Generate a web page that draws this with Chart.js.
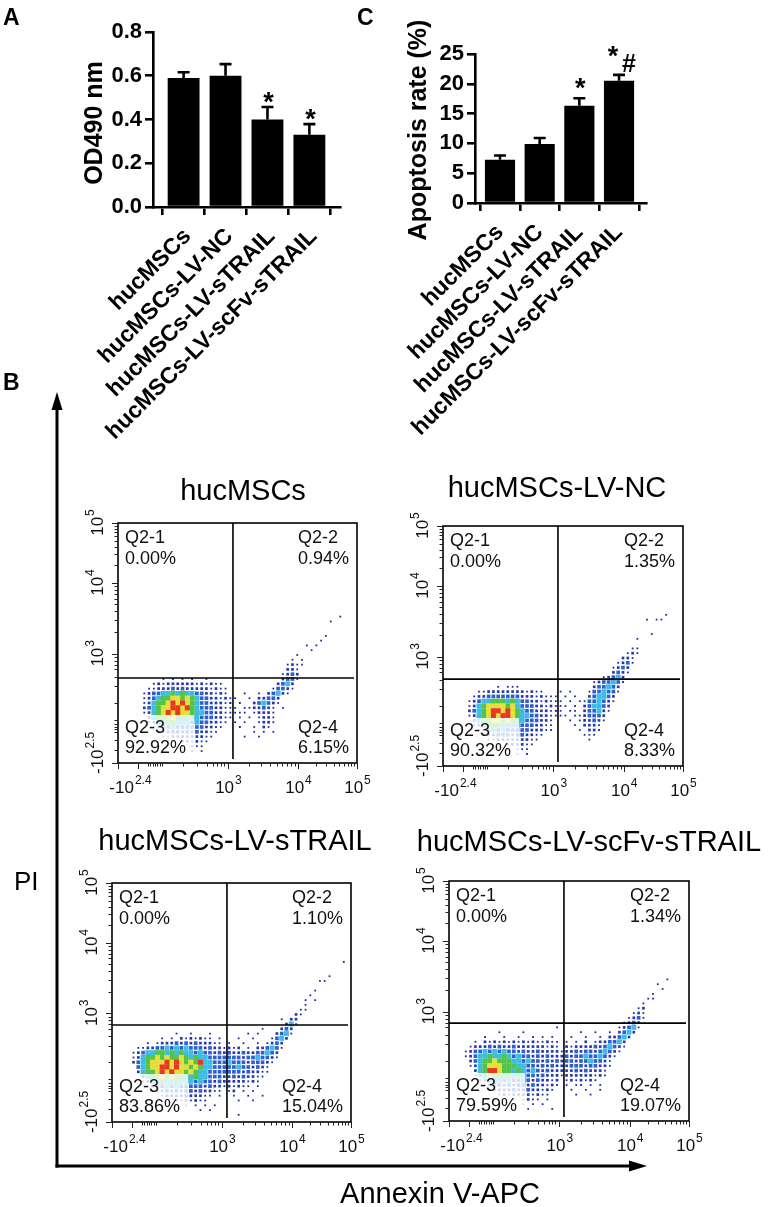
<!DOCTYPE html>
<html><head><meta charset="utf-8">
<script src="https://cdn.jsdelivr.net/npm/chart.js@4.4.1/dist/chart.umd.min.js"></script>
<style>
html,body{margin:0;padding:0;background:#fff;}
body{width:768px;height:1207px;position:relative;overflow:hidden;}
canvas{position:absolute;}
svg{position:absolute;left:0;top:0;pointer-events:none;}
</style></head><body>
<canvas id="cA" width="384" height="455" style="left:0;top:0"></canvas>
<canvas id="cC" width="384" height="455" style="left:384px;top:0"></canvas>
<canvas id="f1" width="344" height="350" style="left:40px;top:460px"></canvas>
<canvas id="f2" width="384" height="350" style="left:384px;top:460px"></canvas>
<canvas id="f3" width="344" height="350" style="left:40px;top:815px"></canvas>
<canvas id="f4" width="384" height="350" style="left:384px;top:815px"></canvas>
<svg width="768" height="1207" xmlns="http://www.w3.org/2000/svg" font-family="Liberation Sans, Arial, sans-serif">
  <text x="3" y="25" font-size="23" font-weight="bold">A</text>
  <text x="357" y="25" font-size="23" font-weight="bold">C</text>
  <text x="3" y="390" font-size="23" font-weight="bold">B</text>
  <line x1="57" y1="1167.5" x2="57" y2="406" stroke="#000" stroke-width="3"/>
  <polygon points="57,392 51.5,410 62.5,410" fill="#000"/>
  <line x1="55.5" y1="1166" x2="632" y2="1166" stroke="#000" stroke-width="3"/>
  <polygon points="647,1166 629,1160.5 629,1171.5" fill="#000"/>
  <text x="14" y="890" font-size="26">PI</text>
  <text x="440" y="1203" font-size="29" text-anchor="middle">Annexin V-APC</text>
</svg>
<script>
const FONT = '"Liberation Sans", Arial, Helvetica, sans-serif';

// ---------- Panel A / C data ----------
const catLabels = ['hucMSCs', 'hucMSCs-LV-NC', 'hucMSCs-LV-sTRAIL', 'hucMSCs-LV-scFv-sTRAIL'];
const odMean = [0.59, 0.60, 0.40, 0.33];
const odErr = [0.026, 0.053, 0.057, 0.049];
const odSig = ['', '', '*', '*'];
const odTicks = [0, 0.2, 0.4, 0.6, 0.8];
const apoMean = [7.25, 9.9, 16.3, 20.5];
const apoErr = [0.73, 1.0, 1.28, 1.0];
const apoSig = ['', '', '*', '*#'];
const apoTicks = [0, 5, 10, 15, 20, 25];

// ---------- Panel B data ----------
const flowTitles = ['hucMSCs', 'hucMSCs-LV-NC', 'hucMSCs-LV-sTRAIL', 'hucMSCs-LV-scFv-sTRAIL'];
const quadNames = ['Q2-1', 'Q2-2', 'Q2-3', 'Q2-4'];
const quadPct1 = ['0.00%', '0.94%', '92.92%', '6.15%'];
const quadPct2 = ['0.00%', '1.35%', '90.32%', '8.33%'];
const quadPct3 = ['0.00%', '1.10%', '83.86%', '15.04%'];
const quadPct4 = ['0.00%', '1.34%', '79.59%', '19.07%'];
const gateX = [481, 479, 481, 479];
const gateY = [354, 362, 406, 408];
const flowXLabels = [{v: 50, b: '-10', s: '2.4'}, {v: 460, b: '10', s: '3'}, {v: 753, b: '10', s: '4'}, {v: 1000, b: '10', s: '5'}];
const flowYLabels = [{v: 40, b: '-10', s: '2.5'}, {v: 455, b: '10', s: '3'}, {v: 750, b: '10', s: '4'}, {v: 1000, b: '10', s: '5'}];
const flowXMajor = [0, 83, 460, 753, 1000];
const flowXMinor = [125, 135, 145, 155, 165, 175, 185, 272, 330, 372, 397, 415, 430, 442];
const flowYMajor = [0, 455, 750, 1000];
const flowYMinor = [54, 96, 129, 141, 152, 162, 179, 250, 320, 360, 390, 410, 425, 440];

// density grid (cell = 20 channel units): [row, startCol, cells]
// . sparse  b dark blue  B blue  c cyan  g green  y yellow  r red
const cloud1 = [
 [17,9,". . . .  ."],[16,7,".b.bbbbbb.b.b.."],[15,6,"..bbbBbBbbbbb.b.."],[14,5,".bBBccgcgccBBbb.b."],
 [13,5,".bBcggyygygcBBbb.b."],[12,5,".bcggyryrygcBBbbb.."],[11,5,"bBcgyyrryrgcBBBbb.."],[10,5,".bcgyryryygccBBbb."],
 [9,6,"bcggyygggccBBBbb."],[8,6,".bccggcccBcBBbb.."],[7,7,".bBBcBBBBBBbb.."],[6,8,".bbBBbBbBbb.."],
 [5,9,"..bbbbbbb.."],[4,11,". .b.b.."],[3,13,". ..."],[2,15,". ."],
 [30,46,"."],[29,44,"."],[26,43,"."],[25,42,"."],[24,39,". ."],[23,40,"."],[22,37,"."],
 [21,36,". ."],[20,35,".b.."],[19,35,"bb."],[18,34,".bBb"],[17,34,"bBB."],[16,33,"bBcb"],[15,32,".BBb."],
 [14,26,".  . bBcb."],[13,24,".  . bbBBb"],[12,23,". .  bBcBb."],[11,24,". ..bbBb. ."],[10,23,".... .bbb."],
 [9,23,". . . .bb."],[8,24,". .  .bb."],[7,25,".  . b."],[6,28,". . ."],[5,26,".  ."]
];
const cloud2 = [
 [16,11,". ..."],[15,7,"..bbbbbbbb.b.."],[14,6,".bbBBBBBBBbbb.b.."],[13,5,".bBccgggcgcBBbb.b."],
 [12,5,".bcgyyyygycBBBbb.b."],[11,5,"bBcgyrryrygcBBbbb.."],[10,5,".bcgyryrrygccBBbb.."],[9,6,"bcggyygyggcBBBbb."],
 [8,6,".bcgggccccBBBbb.."],[7,7,".bBcBcBBBBBbbb.."],[6,8,".bbBBBbBBbb.."],[5,9,"..bbbbbbb.."],
 [4,11,". .bbb.."],[3,13,". ..."],[2,15,". ."],
 [31,46,"."],[30,42,". .."],[27,43,"."],[26,40,"."],[24,39,".."],[23,38,".b."],[22,37,"bb."],
 [21,36,".bB."],[20,35,".bBb"],[19,35,"bBb."],[18,33,".bBcb"],[17,31,".bBBcB."],[16,31,"bBBcBb"],
 [15,24,". .   .BBcBB."],[14,23,". . .  bBccBb"],[13,23,".. . ..BBcBb."],[12,24,".. . bBccBb"],
 [11,23,".. .. bBBcb."],[10,24,".. ..bBBBb"],[9,26,". .bbBb."],[8,27,". bbb."],[7,28,". bb."],[6,29,"..."],[5,30,"."]
];
const cloud3 = [
 [18,13,".  .   ."],[17,10,". . b.b.b.. ."],[16,7,". .bbbBbBbBbbb.."],[15,5,"..bbBBcBcBcBBBbBbb."],
 [14,4,".bBccggcgcgccBcBBbBb"],[13,4,".bcggygyggygcgccBBBB"],[12,4,"bBcgyyyryrygygrccBBB"],[11,5,"BcgyyrryryygygccBBB"],
 [10,5,"bcggyryryygygccBBBB"],[9,6,"bcggygygggcgccBBBb"],[8,6,".bccgccgcccBcBBbBb"],[7,8,"bBBcBcBBBBBbBbb."],
 [6,9,"bbBbBbBBbBbb.."],[5,10,".bbbbBbbb.. ."],[4,13,"..b.b.."],[3,15,". . . ."],[2,18,". ."],
 [33,48,"."],[30,45,"."],[29,43,".."],[27,42,"."],[26,41,"."],[25,40,". ."],[24,40,"."],[23,39,".."],
 [22,38,"b."],[21,35,". bb"],[20,36,"bc."],[19,31,".   bBb"],[18,28,". .   bBc."],[17,26,".  .   .Bcb"],
 [16,24,".  .  . .bBb"],[15,24,"b.b . bbBcB."],[14,24,"BbbBbbBBcBb"],[13,24,"BBBbBBcBBb."],[12,24,"cBBBbBBBb."],
 [11,24,"BBcBBbBb."],[10,24,"BBBbBbb.."],[9,24,"bBbBbb.."],[8,24,"bbbb.b."],[7,24,"b.b.. ."],[6,24,".b . ."],
 [5,25,".  .  ."],[4,26,".  ."],[1,26,"."]
];
const cloud4 = [
 [19,22,"."],[18,10,".    ."],[17,7,".   .  .  . . ."],[16,5,". b.b.b.b.b.b..b.."],[15,4,".bbbBbBbbBbbbbbb.b."],
 [14,3,".bBBcBcBcBBbBbbBbbbb."],[13,3,".bBccgccgcBcBBbBbBbbb"],[12,4,"bBcggygggccBcBBbBbBb"],[11,4,".bcgyyygggccBBbBbBbb"],
 [10,5,"bcgrryggcgcBcBbBbbb"],[9,5,".bcyggcgcccBBbBbbb."],[8,6,".bcccBcBBcBbBbb.b"],[7,7,".bBBbBbBBbBbb.b."],
 [6,8,".bbbbBbbBbb.b."],[5,10,".b.bbbb.b.."],[4,13,". .b.. ."],[3,15,". . ."],[2,16,".    ."],
 [29,45,"."],[28,43,"."],[27,44,"."],[26,42,"."],[25,41,".."],[24,40,"."],[23,39,".b"],[22,38,".b."],
 [21,37,".bB."],[20,36,".bBb"],[19,35,".bBc."],[18,27,".  .  . bBcb"],[17,25,".  .  . bbBcb"],
 [16,24,". . b .bbBBcb"],[15,24,"b.bbbbBbBcBb."],[14,24,"bbBbBBbBcBb."],[13,24,"BbBBcBBcBb."],[12,24,"BBbBBcBBb."],
 [11,24,"bBBBbBBbb."],[10,24,"bbBbBbbb."],[9,24,"bbbbbb.b."],[8,24,".b.b.b."],[7,24,". .. . ."],[6,25,".  .  ."],[5,26,".  ."]
];

// ---------- layout / style (not data) ----------
const CELL = 20;
const LEVELS = ['r', 'y', 'g', 'c', 'B', 'b', '.'];
const LEVEL_STYLE = {
  'r': {color: '#e8381f', radius: 3.6},
  'y': {color: '#e6df3a', radius: 3.6},
  'g': {color: '#52c548', radius: 3.6},
  'c': {color: '#3dbde3', radius: 3.5},
  'B': {color: '#2f60d2', radius: 2.6},
  'b': {color: '#2739a8', radius: 1.9},
  '.': {color: '#1d2992', radius: 1.25}
};
const flowLayout = [
  {id: 'f1', cl: 40, ct: 460, cw: 344, chh: 350, box: [118, 523, 357, 763], tx: 243, ty: 500},
  {id: 'f2', cl: 384, ct: 460, cw: 384, chh: 350, box: [443, 526, 683, 766], tx: 557, ty: 497},
  {id: 'f3', cl: 40, ct: 815, cw: 344, chh: 350, box: [112, 883, 351, 1122], tx: 235, ty: 850},
  {id: 'f4', cl: 384, ct: 815, cw: 384, chh: 350, box: [449, 881, 689, 1121], tx: 589, ty: 851}
];
const clouds = [cloud1, cloud2, cloud3, cloud4];
const quadPcts = [quadPct1, quadPct2, quadPct3, quadPct4];

// ---------- bar charts ----------
function barPlugin(means, errs, sigs, starLift) {
  return {
    id: 'errbars',
    afterDatasetsDraw(chart) {
      const ctx = chart.ctx, xs = chart.scales.x, ys = chart.scales.y;
      ctx.save();
      ctx.strokeStyle = '#000'; ctx.lineWidth = 2.6; ctx.fillStyle = '#000';
      means.forEach((m, i) => {
        const x = xs.getPixelForValue(i);
        const y0 = ys.getPixelForValue(m);
        const y1 = ys.getPixelForValue(m + errs[i]);
        ctx.beginPath();
        ctx.moveTo(x, y0); ctx.lineTo(x, y1);
        ctx.moveTo(x - 6, y1); ctx.lineTo(x + 6, y1);
        ctx.stroke();
        const s = sigs[i];
        ctx.font = 'bold 27px ' + FONT;
        ctx.textAlign = 'center'; ctx.textBaseline = 'alphabetic';
        if (s === '*') {
          ctx.fillText('*', x + 1, y1 + 4 - starLift);
        } else if (s === '*#') {
          ctx.fillText('*', x - 6, y1 - 10);
          ctx.font = 'bold 25px ' + FONT;
          ctx.fillText('#', x + 10, y1 - 3);
        }
      });
      ctx.restore();
    }
  };
}
function titlePlugin(text, cx, cy) {
  return {
    id: 'ytitle',
    afterDraw(chart) {
      const ctx = chart.ctx;
      ctx.save();
      ctx.translate(cx, cy); ctx.rotate(-Math.PI / 2);
      ctx.font = 'bold 25px ' + FONT; ctx.fillStyle = '#000';
      ctx.textAlign = 'center'; ctx.textBaseline = 'middle';
      ctx.fillText(text, 0, 0);
      ctx.restore();
    }
  };
}
function makeBar(cfg) {
  const axisGrid = {drawOnChartArea: false, drawTicks: true, tickLength: 8, color: '#000', lineWidth: 2.6};
  const axisBorder = {display: true, color: '#000', width: 2.6};
  new Chart(document.getElementById(cfg.id), {
    type: 'bar',
    data: {datasets: [{
      data: cfg.means.map((v, i) => ({x: i, y: v})),
      backgroundColor: '#000', borderWidth: 0, barPercentage: 0.76, categoryPercentage: 1
    }]},
    options: {
      responsive: false, animation: false, events: [],
      layout: {padding: cfg.pad},
      plugins: {legend: {display: false}, tooltip: {enabled: false}},
      scales: {
        x: {
          type: 'linear', min: cfg.xMin, max: cfg.xMax, offset: false,
          afterBuildTicks: s => { s.ticks = catLabels.map((_, i) => ({value: i})); },
          afterFit: s => { s.height = cfg.xH; },
          ticks: {autoSkip: false, minRotation: 45, maxRotation: 45, padding: 8, labelOffset: cfg.lblOff, color: '#000',
                  font: {family: FONT, weight: 'bold', size: 23},
                  callback: v => catLabels[v]},
          grid: axisGrid, border: axisBorder
        },
        y: {
          min: 0, max: cfg.yMax,
          afterBuildTicks: s => { s.ticks = cfg.ticks.map(v => ({value: v})); },
          afterFit: s => { s.width = cfg.yW; },
          ticks: {padding: 3, color: '#000', font: {family: FONT, weight: 'bold', size: 22}, callback: cfg.fmt},
          grid: axisGrid, border: axisBorder
        }
      }
    },
    plugins: [barPlugin(cfg.means, cfg.errs, cfg.sigs, cfg.starLift), titlePlugin(cfg.title, cfg.tcx, cfg.tcy)]
  });
}
makeBar({id: 'cA', means: odMean, errs: odErr, sigs: odSig, ticks: odTicks, yMax: 0.8, xMin: -0.73, xMax: 3.73,
  pad: {left: 0, right: 44, top: 32, bottom: 0}, yW: 153, xH: 248, lblOff: 4, fmt: v => v.toFixed(1),
  title: 'OD490 nm', tcx: 95, tcy: 123, starLift: 0});
makeBar({id: 'cC', means: apoMean, errs: apoErr, sigs: apoSig, ticks: apoTicks, yMax: 25, xMin: -0.63, xMax: 3.68,
  pad: {left: 0, right: 122, top: 54, bottom: 0}, yW: 91, xH: 252, lblOff: 0, fmt: v => String(v),
  title: 'Apoptosis rate (%)', tcx: 35, tcy: 130, starLift: 5});

// ---------- flow plots ----------
function buildPoints(rows) {
  const out = {};
  LEVELS.forEach(k => out[k] = []);
  rows.forEach(([r, c0, s]) => {
    for (let i = 0; i < s.length; i++) {
      const ch = s[i];
      if (ch === ' ' || !out[ch]) continue;
      out[ch].push({x: (c0 + i) * CELL + CELL / 2, y: r * CELL + CELL / 2});
    }
  });
  return out;
}
function logMinors(a, b) {
  const t = [];
  for (let k = 2; k <= 9; k++) t.push(a + (b - a) * Math.log10(k));
  return t;
}
const xMinorAll = flowXMinor.concat(logMinors(460, 753), logMinors(753, 1000));
const yMinorAll = flowYMinor.concat(logMinors(455, 750), logMinors(750, 1000));

function supLabel(ctx, b, s, x, y, rotate) {
  ctx.save();
  ctx.translate(x, y);
  if (rotate) ctx.rotate(-Math.PI / 2);
  ctx.font = '17px ' + FONT;
  const wb = ctx.measureText(b).width;
  ctx.font = '12px ' + FONT;
  const ws = ctx.measureText(s).width;
  const st = -(wb + ws) / 2;
  ctx.textAlign = 'left'; ctx.textBaseline = 'alphabetic';
  ctx.font = '17px ' + FONT; ctx.fillText(b, st, 0);
  ctx.font = '12px ' + FONT; ctx.fillText(s, st + wb + 1, -9);
  ctx.restore();
}
function flowPlugin(idx) {
  return {
    id: 'flowdeco',
    afterDatasetsDraw(chart) {
      const ctx = chart.ctx, ca = chart.chartArea, xs = chart.scales.x, ys = chart.scales.y;
      const L = flowLayout[idx], pct = quadPcts[idx];
      ctx.save();
      ctx.font = '18px ' + FONT;
      const wBL = Math.max(ctx.measureText(quadNames[2]).width, ctx.measureText(pct[2]).width);
      const lx = ca.left + 7;
      ctx.fillStyle = 'rgba(255,255,255,0.8)';
      ctx.fillRect(lx - 3, ca.bottom - 48, wBL + 11, 46);
      // gates
      const gx = xs.getPixelForValue(gateX[idx]), gy = ys.getPixelForValue(gateY[idx]);
      ctx.strokeStyle = '#000'; ctx.lineWidth = 1.6;
      ctx.beginPath();
      ctx.moveTo(gx, ca.top); ctx.lineTo(gx, ca.bottom - 4);
      ctx.moveTo(ca.left, gy); ctx.lineTo(ca.right - 3, gy);
      ctx.stroke();
      // box
      ctx.strokeRect(ca.left, ca.top, ca.right - ca.left, ca.bottom - ca.top);
      // quadrant labels
      ctx.fillStyle = '#111'; ctx.textAlign = 'left'; ctx.textBaseline = 'alphabetic';
      ctx.font = '18px ' + FONT;
      const wTR = Math.max(ctx.measureText(quadNames[1]).width, ctx.measureText(pct[1]).width);
      const wBR = Math.max(ctx.measureText(quadNames[3]).width, ctx.measureText(pct[3]).width);
      ctx.fillText(quadNames[0], lx, ca.top + 20); ctx.fillText(pct[0], lx, ca.top + 41);
      ctx.fillText(quadNames[1], ca.right - 8 - wTR, ca.top + 20); ctx.fillText(pct[1], ca.right - 8 - wTR, ca.top + 41);
      ctx.fillText(quadNames[2], lx, ca.bottom - 30); ctx.fillText(pct[2], lx, ca.bottom - 10);
      ctx.fillText(quadNames[3], ca.right - 8 - wBR, ca.bottom - 30); ctx.fillText(pct[3], ca.right - 8 - wBR, ca.bottom - 10);
      // ticks
      ctx.strokeStyle = '#222'; ctx.lineWidth = 1;
      ctx.beginPath();
      flowXMajor.forEach(v => { const p = Math.round(xs.getPixelForValue(v)) + 0.5; ctx.moveTo(p, ca.bottom); ctx.lineTo(p, ca.bottom + 6); });
      xMinorAll.forEach(v => { const p = Math.round(xs.getPixelForValue(v)) + 0.5; ctx.moveTo(p, ca.bottom); ctx.lineTo(p, ca.bottom + 3.5); });
      flowYMajor.forEach(v => { const p = Math.round(ys.getPixelForValue(v)) + 0.5; ctx.moveTo(ca.left, p); ctx.lineTo(ca.left - 6, p); });
      yMinorAll.forEach(v => { const p = Math.round(ys.getPixelForValue(v)) + 0.5; ctx.moveTo(ca.left, p); ctx.lineTo(ca.left - 3.5, p); });
      ctx.stroke();
      // tick labels
      ctx.fillStyle = '#111';
      flowXLabels.forEach(t => supLabel(ctx, t.b, t.s, xs.getPixelForValue(t.v), ca.bottom + 30, false));
      flowYLabels.forEach(t => supLabel(ctx, t.b, t.s, ca.left - 15, ys.getPixelForValue(t.v), true));
      // title
      ctx.font = '29px ' + FONT; ctx.fillStyle = '#000'; ctx.textAlign = 'center';
      ctx.fillText(flowTitles[idx], L.tx - L.cl, L.ty - L.ct);
      ctx.restore();
    }
  };
}
flowLayout.forEach((L, idx) => {
  const pts = buildPoints(clouds[idx]);
  const datasets = LEVELS.map(k => ({
    data: pts[k], pointStyle: 'rect', pointRadius: LEVEL_STYLE[k].radius,
    backgroundColor: LEVEL_STYLE[k].color, borderWidth: 0, pointBorderWidth: 0
  }));
  new Chart(document.getElementById(L.id), {
    type: 'scatter',
    data: {datasets},
    options: {
      responsive: false, animation: false, events: [],
      layout: {padding: {left: L.box[0] - L.cl, top: L.box[1] - L.ct, right: L.cl + L.cw - L.box[2], bottom: L.ct + L.chh - L.box[3]}},
      plugins: {legend: {display: false}, tooltip: {enabled: false}},
      scales: {
        x: {type: 'linear', min: 0, max: 1000, display: false},
        y: {type: 'linear', min: 0, max: 1000, display: false}
      }
    },
    plugins: [flowPlugin(idx)]
  });
});
</script>
</body></html>
